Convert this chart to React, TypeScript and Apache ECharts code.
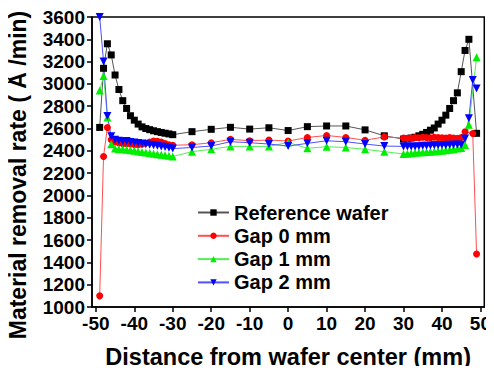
import React, { useEffect, useRef } from "react";
import * as echarts from "echarts";

const positions = [
  -49, -48, -47, -46,
  -45, -44, -43, -42, -41, -40, -39, -38, -37, -36, -35, -34, -33, -32, -31, -30,
  -25, -20, -15, -10, -5, 0, 5, 10, 15, 20, 25,
  30, 31, 32, 33, 34, 35, 36, 37, 38, 39, 40, 41, 42, 43, 44, 45,
  46, 47, 48, 49,
];

const referenceWafer = [
  2610, 3140, 3360, 3260,
  3080, 2950, 2850, 2780, 2715, 2675, 2640, 2615, 2600, 2590, 2580, 2572, 2565, 2558, 2552, 2545,
  2572, 2593, 2611, 2595, 2607, 2582, 2617, 2623, 2623, 2588, 2535,
  2505, 2508, 2515, 2522, 2535, 2548, 2565, 2585, 2605, 2640, 2675, 2720, 2780, 2850, 2920, 3110,
  3300, 3400, null, 2557,
];

const gap0 = [
  1100, 2350, 2610, 2500,
  2480, 2470, 2465, 2465, 2462, 2458, 2455, 2460, 2470, 2480, 2488, 2485, 2478, 2465, 2455, 2450,
  2455, 2473, 2503, 2491, 2497, 2488, 2520, 2538, 2520, 2495, 2525,
  2515, 2512, 2515, 2520, 2518, 2522, 2520, 2518, 2522, 2520, 2518, 2515, 2520, 2515, 2512, 2520,
  2572, null, 2555, 1475,
];

const gap1 = [
  2940, 3070, 2700, 2460,
  2420, 2415, 2415, 2410, 2405, 2400, 2395, 2390, 2385, 2380, 2375, 2370, 2365, 2360, 2355, 2350,
  2393, 2414, 2440, 2440, 2440, 2475, 2423, 2437, 2430, 2414, 2393,
  2372, 2375, 2378, 2382, 2385, 2388, 2390, 2392, 2395, 2398, 2400, 2405, 2410, 2415, 2420, 2425,
  2452, 2635, null, 3240,
];

const gap2 = [
  3600, 3200, 2712, 2530,
  2500, 2490, 2485, 2488, 2480, 2475, 2470, 2465, 2460, 2455, 2450, 2445, 2440, 2435, 2428, 2420,
  2430, 2443, 2482, 2473, 2461, 2443, 2467, 2490, 2482, 2461, 2443,
  2440, 2438, 2440, 2440, 2442, 2445, 2445, 2448, 2450, 2450, 2452, 2450, 2455, 2455, 2458, 2455,
  2510, 2692, 3035, 2960,
];

const xTicks = [-50, -40, -30, -20, -10, 0, 10, 20, 30, 40, 50];
const seriesNames = ["Reference wafer", "Gap 0 mm", "Gap 1 mm", "Gap 2 mm"];
const xTitle = "Distance from wafer center (mm)";
const yTitle = "Material removal rate ( Å /min)";

const FONT = "'Liberation Sans', Arial, sans-serif";

function pairs(vals: (number | null)[]) {
  return positions.map((x, i) => [x, vals[i] === null ? null : vals[i]]);
}

export default function App() {
  const ref = useRef<HTMLDivElement>(null);
  useEffect(() => {
    if (!ref.current) return;
    const chart = echarts.init(ref.current, undefined, { renderer: "svg" });
    const mk = (
      name: string,
      vals: (number | null)[],
      color: string,
      lineColor: string,
      symbol: string,
      size: number
    ) => ({
      name,
      type: "line",
      data: pairs(vals),
      connectNulls: true,
      symbol,
      symbolSize: size,
      showAllSymbol: true,
      itemStyle: { color },
      lineStyle: { color: lineColor, width: 1 },
      emphasis: { disabled: true },
    });
    chart.setOption({
      animation: false,
      backgroundColor: "#fff",
      grid: {
        left: 92,
        right: 7,
        top: 17,
        bottom: 67,
        show: true,
        borderColor: "#000",
        borderWidth: 1.5,
        containLabel: false,
      },
      graphic: [
        {
          type: "text",
          x: 18,
          y: 175,
          rotation: Math.PI / 2,
          style: {
            text: yTitle,
            font: "bold 23px 'Liberation Sans', Arial, sans-serif",
            fill: "#000",
            textAlign: "center",
            textVerticalAlign: "middle",
          },
        },
      ],
      legend: {
        data: seriesNames,
        orient: "vertical",
        left: 192,
        top: 197.5,
        itemWidth: 31,
        itemHeight: 8,
        itemGap: 3.3,
        textStyle: { fontFamily: FONT, fontWeight: "bold", fontSize: 20, lineHeight: 20, color: "#000" },
      },
      xAxis: {
        type: "value",
        min: -51,
        max: 51,
        name: xTitle,
        nameLocation: "middle",
        nameGap: 38,
        nameTextStyle: { fontFamily: FONT, fontWeight: "bold", fontSize: 23.5, color: "#000" },
        axisLine: { show: true, onZero: false, lineStyle: { color: "#000", width: 1.5 } },
        axisTick: { show: true, inside: false, length: 5, customValues: xTicks, lineStyle: { color: "#000", width: 1.5 } },
        axisLabel: { customValues: xTicks, fontFamily: FONT, fontWeight: "bold", fontSize: 19, color: "#000", margin: 7 },
        splitLine: { show: false },
      },
      yAxis: {
        type: "value",
        min: 1000,
        max: 3600,
        interval: 200,
        axisLine: { show: true, onZero: false, lineStyle: { color: "#000", width: 1.5 } },
        axisTick: { show: true, inside: false, length: 5, lineStyle: { color: "#000", width: 1.5 } },
        axisLabel: {
          fontFamily: FONT,
          fontWeight: "bold",
          fontSize: 19,
          color: "#000",
          margin: 7,
          formatter: (v: number) => String(v),
        },
        splitLine: { show: false },
      },
      series: [
        mk(seriesNames[0], referenceWafer, "#000000", "#555555", "rect", 7),
        mk(seriesNames[1], gap0, "#ff0000", "#ff5050", "circle", 7),
        mk(seriesNames[2], gap1, "#00ee00", "#55ee55", "triangle", 8),
        mk(seriesNames[3], gap2, "#0000ff", "#5050ff", "path://M0,0 L10,0 L5,9 Z", 8),
      ],
    });
    return () => chart.dispose();
  }, []);
  return <div ref={ref} style={{ width: 494, height: 374, margin: -8 }} />;
}
